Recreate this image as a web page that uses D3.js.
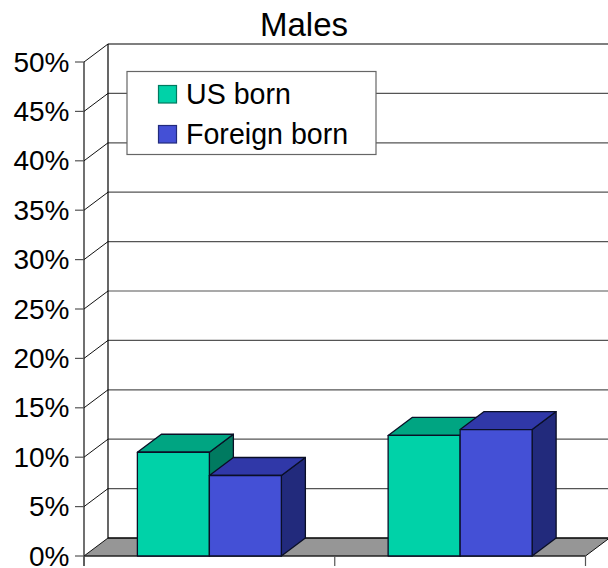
<!DOCTYPE html>
<html>
<head>
<meta charset="utf-8">
<script src="https://cdn.jsdelivr.net/npm/d3@7"></script>
<style>
html,body{margin:0;padding:0;background:#fff}
svg{display:block}
text{font-family:"Liberation Sans",Arial,sans-serif;fill:#000}
</style>
</head>
<body>
<script>
const title = "Males";
const categories = ["Group 1", "Group 2"];
const seriesNames = ["US born", "Foreign born"];
const usBorn = [10.5, 12.2];
const foreignBorn = [8.15, 12.8];
const tickValues = [0, 5, 10, 15, 20, 25, 30, 35, 40, 45, 50];
const faceColors = ["#00d2a8", "#4450d6"];
const topColors = ["#00a582", "#3038a8"];
const sideColors = ["#007a60", "#222a7c"];

const W = 608, H = 568;
const svg = d3.select("body").append("svg").attr("width", W).attr("height", H);

const depthX = 24, depthY = -18;
const y = d3.scaleLinear().domain([0, 50]).range([556, 62]);
const x0 = d3.scaleBand().domain(categories).range([84, 585.5]);
const barW = 72;
const groupLeft = c => x0(c) + (x0.bandwidth() - 2 * barW) / 2;
const pts = a => a.map(p => p.join(",")).join(" ");
const xL = x0.range()[0], xR = x0.range()[1];

// floor
svg.append("polygon")
  .attr("points", pts([[xL, y(0)], [xR, y(0)], [xR + depthX, y(0) + depthY], [xL + depthX, y(0) + depthY]]))
  .attr("fill", "#969696").attr("stroke", "none");

// back wall gridlines and side wall lines
const grid = svg.append("g");
tickValues.forEach(t => {
  const yy = y(t) + depthY;
  grid.append("line").attr("x1", xL + depthX).attr("x2", W + 2).attr("y1", yy).attr("y2", yy)
    .attr("stroke", t === 50 || t === 0 ? "#000" : "#555").attr("stroke-width", t === 0 ? 1.5 : 1.2);
  grid.append("line").attr("x1", xL).attr("x2", xL + depthX).attr("y1", y(t)).attr("y2", yy)
    .attr("stroke", "#111").attr("stroke-width", 1);
});
grid.append("line").attr("x1", xL + depthX).attr("x2", xL + depthX).attr("y1", y(0) + depthY).attr("y2", y(50) + depthY).attr("stroke", "#000").attr("stroke-width", 1.2);
grid.append("line").attr("x1", xR).attr("x2", xR + depthX).attr("y1", y(0)).attr("y2", y(0) + depthY).attr("stroke", "#111");

// front axis
const axisG = svg.append("g");
axisG.append("line").attr("x1", xL).attr("x2", xL).attr("y1", y(50)).attr("y2", y(0) + 10).attr("stroke", "#111").attr("stroke-width", 1.2);
axisG.append("line").attr("x1", xL).attr("x2", xR).attr("y1", y(0)).attr("y2", y(0)).attr("stroke", "#222").attr("stroke-width", 1.3);
tickValues.forEach(t => {
  axisG.append("line").attr("x1", 75).attr("x2", xL).attr("y1", y(t)).attr("y2", y(t)).attr("stroke", "#555").attr("stroke-width", 1.2);
  axisG.append("text").attr("x", 69.5).attr("y", y(t) + 9.5).attr("text-anchor", "end")
    .attr("font-size", 28).text(t + "%");
});
[xL, x0("Group 2"), xR].forEach(v => {
  axisG.append("line").attr("x1", v).attr("x2", v).attr("y1", y(0)).attr("y2", y(0) + 10).attr("stroke", "#555").attr("stroke-width", 1.2);
});

// bars
const seriesValues = [usBorn, foreignBorn];
const drawBar = (cat, s) => {
  const v = seriesValues[s][categories.indexOf(cat)];
  const xl = groupLeft(cat) + s * barW, xr = xl + barW, yt = y(v), yb = y(0);
  const g = svg.append("g").attr("stroke", "#0a0f26").attr("stroke-width", 1.3).attr("stroke-linejoin", "round");
  g.append("polygon").attr("points", pts([[xr, yb], [xr + depthX, yb + depthY], [xr + depthX, yt + depthY], [xr, yt]])).attr("fill", sideColors[s]);
  g.append("polygon").attr("points", pts([[xl, yt], [xl + depthX, yt + depthY], [xr + depthX, yt + depthY], [xr, yt]])).attr("fill", topColors[s]);
  g.append("rect").attr("x", xl).attr("y", yt).attr("width", barW).attr("height", yb - yt).attr("fill", faceColors[s]);
};
categories.forEach(c => { drawBar(c, 0); drawBar(c, 1); });

// title
svg.append("text").attr("x", 304).attr("y", 35.5).attr("text-anchor", "middle").attr("font-size", 33).text(title);

// legend
const lg = svg.append("g");
lg.append("rect").attr("x", 127).attr("y", 71.5).attr("width", 249).attr("height", 83).attr("fill", "#fff").attr("stroke", "#666").attr("stroke-width", 1.2);
seriesNames.forEach((n, i) => {
  const yy = 85.5 + i * 40;
  lg.append("rect").attr("x", 158.5).attr("y", yy).attr("width", 18).attr("height", 17.5).attr("fill", faceColors[i]).attr("stroke", sideColors[i]).attr("stroke-width", 1.2);
  lg.append("text").attr("x", 186).attr("y", yy + 18).attr("font-size", 28.6).text(n);
});
</script>
</body>
</html>
